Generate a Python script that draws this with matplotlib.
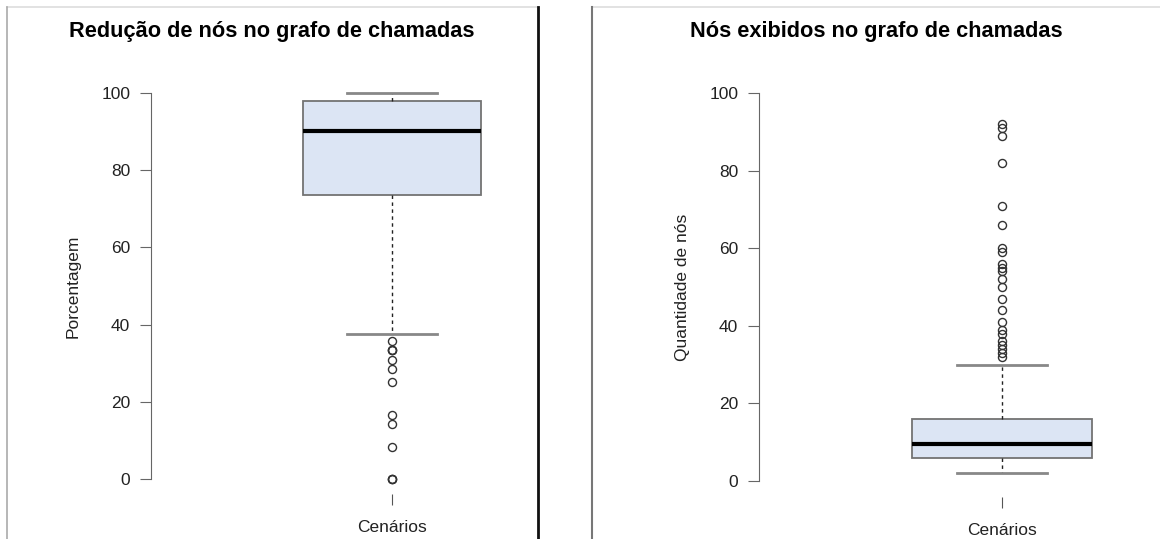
import matplotlib
matplotlib.use("Agg")
import matplotlib.pyplot as plt
from matplotlib.lines import Line2D

plt.rcParams['font.family'] = ['Liberation Sans', 'DejaVu Sans']

# dados (estatísticas dos boxplots)
titulos = ['Redução de nós no grafo de chamadas', 'Nós exibidos no grafo de chamadas']
ylabels = ['Porcentagem', 'Quantidade de nós']
xlabel = 'Cenários'
yticks = [0, 20, 40, 60, 80, 100]

reducao_stats = dict(whislo=37.5, q1=73.5, med=90.2, q3=98.0, whishi=100.0)
reducao_outliers = [35.7, 33.3, 33.3, 33.3, 30.8, 28.6, 25.0, 16.7, 14.3, 8.3, 0, 0, 0]

exibidos_stats = dict(whislo=2, q1=6, med=9.5, q3=16, whishi=30)
exibidos_outliers = [92, 91, 89, 82, 71, 66, 60, 59, 56, 55, 54, 52, 50, 47, 44,
                     41, 39, 38, 36, 35, 34, 33, 32]

W, H = 1160, 539
fig = plt.figure(figsize=(W / 100, H / 100), dpi=100)


def px_axes(left, right, top, bottom):
    return fig.add_axes([left / W, 1 - bottom / H, (right - left) / W, (bottom - top) / H])


def desenha(ax, stats, outliers, titulo, ylab, label_x, cx):
    s = dict(stats)
    s['fliers'] = outliers
    ax.bxp([s], positions=[1], widths=0.4, capwidths=[0.2], patch_artist=True,
           boxprops=dict(facecolor='#dce5f4', edgecolor='#737373', linewidth=1.3),
           medianprops=dict(color='black', linewidth=3),
           whiskerprops=dict(color='#222222', linewidth=1, linestyle=(0, (2.5, 2.5))),
           capprops=dict(color='#888888', linewidth=2),
           flierprops=dict(marker='o', markerfacecolor='none', markeredgecolor='#333333',
                           markersize=5.8, markeredgewidth=1))
    ax.set_xlim(0.46, 1.54)
    ax.set_ylim(-4, 104)
    ax.set_facecolor('none')
    for sp in ['top', 'right', 'bottom']:
        ax.spines[sp].set_visible(False)
    ax.spines['left'].set_bounds(0, 100)
    ax.spines['left'].set_color('#666666')
    ax.set_yticks(yticks)
    ax.set_yticklabels([str(v) for v in yticks])
    ax.tick_params(axis='y', length=8, pad=7, color='#666666', labelsize=12.5, labelcolor='#222222')
    ax.set_xticks([1])
    ax.set_xticklabels([''])
    ax.tick_params(axis='x', length=8, color='#555555')
    ax.set_ylabel(ylab, fontsize=12.5, color='#222222')
    ax.yaxis.set_label_coords(label_x, 0.5)
    ax.text(0.5, -0.08, xlabel, transform=ax.transAxes, ha='center', va='center',
            fontsize=12.5, color='#222222')
    fig.text(cx / W, 1 - 31 / H, titulo, ha='center', va='center', fontsize=15.7,
             fontweight='bold')


ax1 = px_axes(151, 633, 77.6, 494.4)
desenha(ax1, reducao_stats, reducao_outliers, titulos[0], ylabels[0], -0.147, 272)

ax2 = px_axes(759, 1245, 77.5, 496.5)
desenha(ax2, exibidos_stats, exibidos_outliers, titulos[1], ylabels[1], -0.142, 876)

# molduras dos dois painéis
bordas = [
    ((7, 538), (7, 7), '#dddddd', 1.2),
    ((7, 7), (7, 539), '#aaaaaa', 1.2),
    ((538, 538), (7, 539), '#111111', 2),
    ((592, 1160), (7, 7), '#dddddd', 1.2),
    ((592, 592), (7, 539), '#777777', 1.5),
]
for xs, ys, cor, lw in bordas:
    fig.add_artist(Line2D([x / W for x in xs], [1 - y / H for y in ys],
                          transform=fig.transFigure, color=cor, linewidth=lw))

fig.savefig('out.png', dpi=100)
